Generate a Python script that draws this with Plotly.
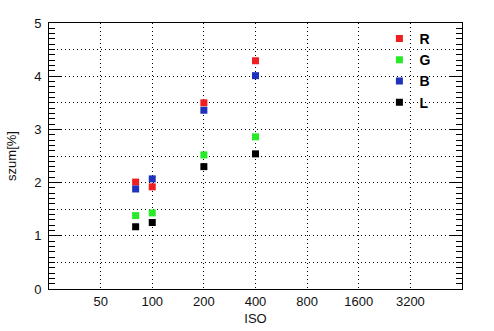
import plotly.graph_objects as go

iso = [80, 100, 200, 400]
series_names = ["R", "G", "B", "L"]
r_vals = [2.01, 1.92, 3.50, 4.29]
g_vals = [1.38, 1.43, 2.52, 2.86]
b_vals = [1.88, 2.07, 3.36, 4.01]
l_vals = [1.17, 1.25, 2.30, 2.54]
colors = ["rgb(240,30,30)", "rgb(40,235,40)", "rgb(30,50,190)", "rgb(0,0,0)"]
x_ticks = [50, 100, 200, 400, 800, 1600, 3200]
y_major = [0, 1, 2, 3, 4, 5]

fig = go.Figure()
for name, vals, col in zip(series_names, [r_vals, g_vals, b_vals, l_vals], colors):
    fig.add_trace(go.Scatter(x=iso, y=vals, mode="markers", name=name,
                             marker=dict(symbol="square", size=7, color=col, line=dict(width=0))))

# invisible trace on secondary y axis to carry the 0.5 dotted grid
fig.add_trace(go.Scatter(x=[50], y=[0], yaxis="y2", mode="markers",
                         marker=dict(opacity=0), showlegend=False, hoverinfo="skip"))

font_family = "Liberation Sans, Arial, sans-serif"
fig.update_layout(
    width=494, height=331,
    margin=dict(l=49, r=32, t=23, b=42, autoexpand=False),
    paper_bgcolor="white", plot_bgcolor="white",
    font=dict(family=font_family, size=13, color="#111"),
    showlegend=True,
    legend=dict(x=0.80, y=1.0, xanchor="left", yanchor="top",
                bgcolor="rgba(0,0,0,0)",
                font=dict(size=14, color="black", family=font_family, weight="bold"),
                itemsizing="trace", tracegroupgap=0),
    xaxis=dict(type="log", range=[1.39794, 3.80618], tickvals=x_ticks,
               ticktext=[str(v) for v in x_ticks], ticks="", automargin=False,
               showgrid=True, gridcolor="black", griddash="1px,3px", gridwidth=1,
               showline=True, mirror=True, linecolor="black", linewidth=1,
               zeroline=False, title=dict(text="ISO", standoff=6, font=dict(size=13))),
    yaxis=dict(range=[0, 5], tickvals=y_major, ticks="inside", ticklen=13, automargin=False,
               tickcolor="black", showgrid=False, zeroline=False, ticklabelstandoff=4,
               showline=True, mirror="ticks", linecolor="black", linewidth=1,
               minor=dict(dtick=0.1, ticks="inside", ticklen=6, tickcolor="black", showgrid=False),
               title=dict(text="szum[%]", standoff=14, font=dict(size=13))),
    yaxis2=dict(range=[0, 5], overlaying="y", dtick=0.5, showticklabels=False, ticks="",
                showgrid=True, gridcolor="black", griddash="1px,3px", gridwidth=1,
                zeroline=False, showline=False, automargin=False),
)

fig.write_html("out.html")
